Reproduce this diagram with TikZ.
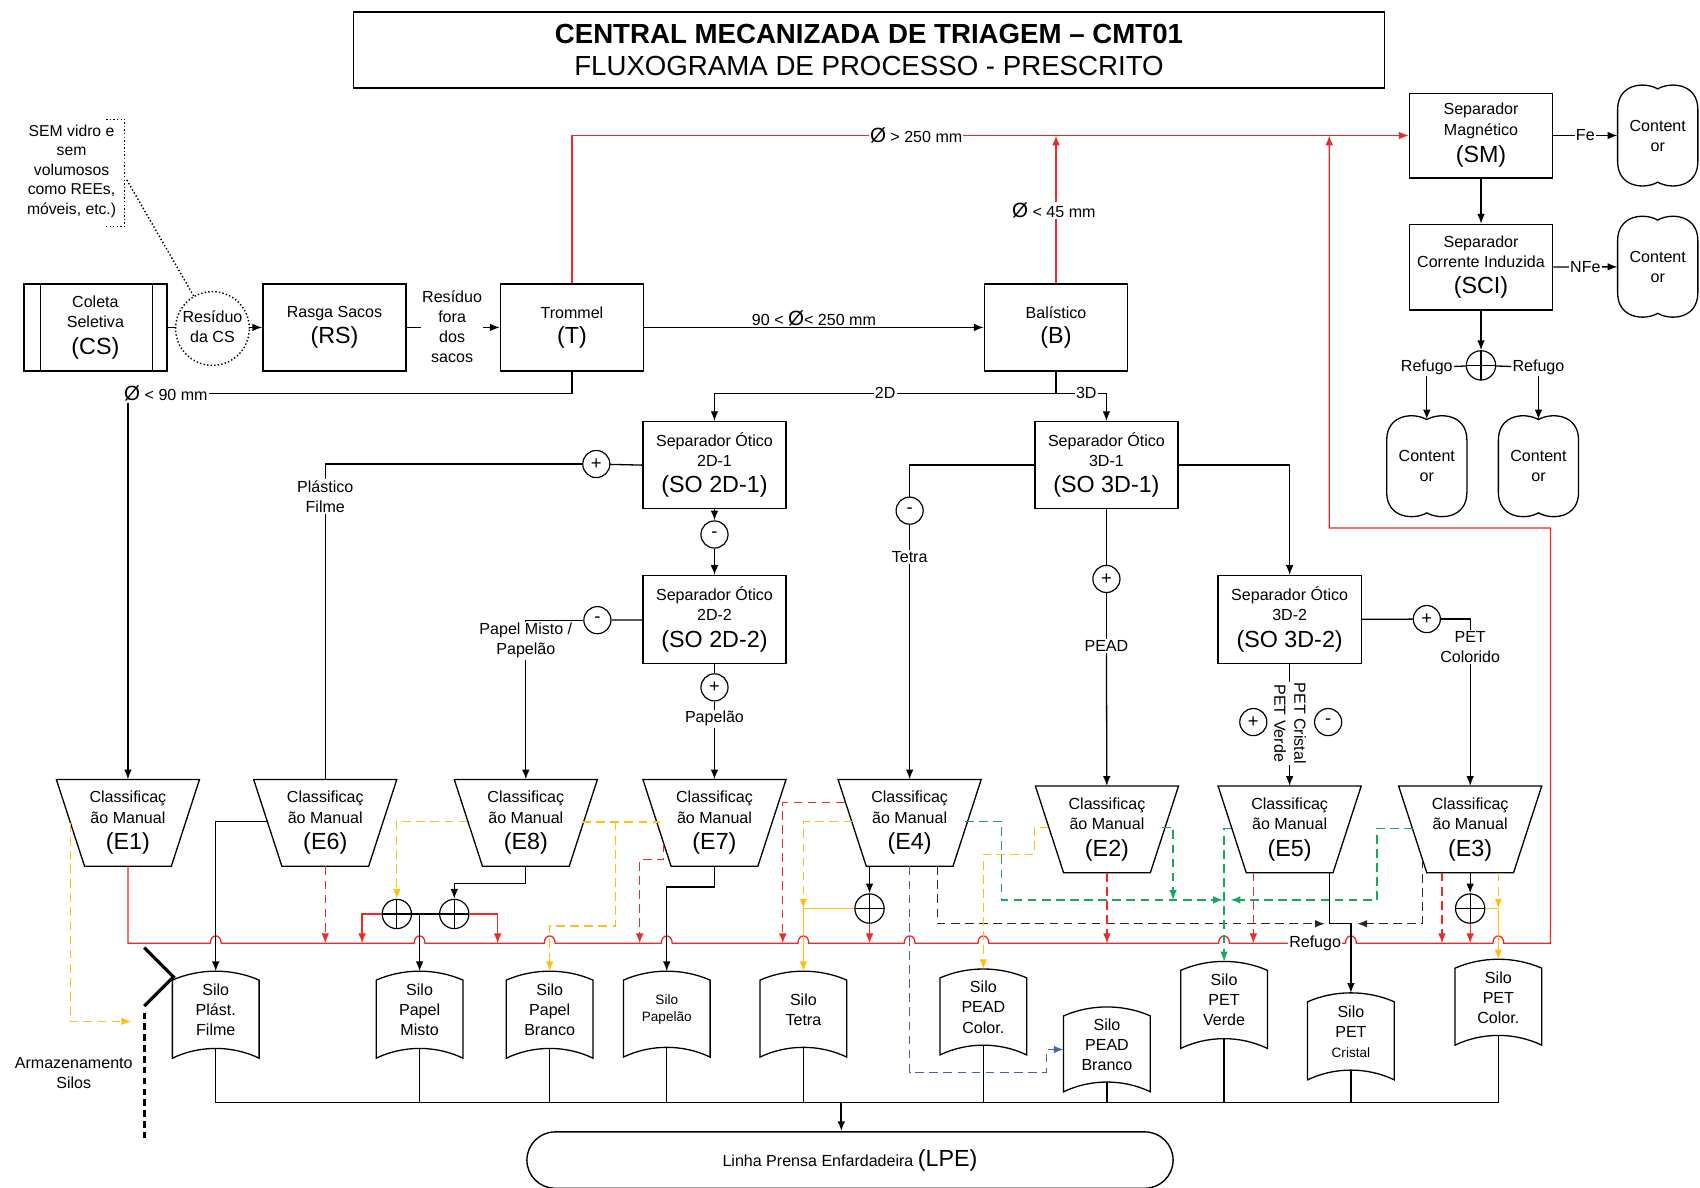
\documentclass[tikz,border=0pt]{standalone}
\usepackage{fontspec}
\setmainfont{Liberation Sans}
\usetikzlibrary{arrows.meta,shapes,positioning}

\definecolor{vermelhoCMT}{RGB}{240,40,40}
\definecolor{amarelo}{RGB}{255,190,20}
\definecolor{verde}{RGB}{20,170,90}
\definecolor{azul}{RGB}{70,100,160}
\definecolor{cinza}{RGB}{40,40,40}

\newcommand{\pequena}{\fontsize{14.8}{18.5}\selectfont}
\newcommand{\menor}{\fontsize{12.5}{15}\selectfont}
\newcommand{\grande}{\fontsize{21.5}{24}\selectfont}
\newcommand{\diametro}{{\fontsize{19}{19}\selectfont Ø}}

\newcommand{\estacao}[4]{%
  \draw[linha] (#2-66,#3) -- (#2+66,#3) -- (#2+40,#3+80) -- (#2-40,#3+80) -- cycle;
  \node[estacaotxt] (#1) at (#2,#3+40) {Classificaç\\ão Manual\\[6pt]{\grande (#4)}};}

\newcommand{\silo}[6]{%
  \draw[linha] (#2-40,#3+8) .. controls (#2-15,#3-3) and (#2+15,#3-3) .. (#2+40,#3+8) -- (#2+40,#4) .. controls (#2+15,#4-12) and (#2-15,#4-12) .. (#2-40,#4) -- cycle;
  \node[silotxt,#5,minimum height=#4-#3-9] (#1) at (#2,{(#3+#4-9)/2}) {#6};}

\newcommand{\contentor}[3]{%
  \draw[linha] (#2-37,#3-24) .. controls (#2-37,#3-48) and (#2-12,#3-50) .. (#2,#3-43) .. controls (#2+12,#3-50) and (#2+37,#3-48) .. (#2+37,#3-24) -- (#2+37,#3+24) .. controls (#2+37,#3+48) and (#2+12,#3+50) .. (#2,#3+43) .. controls (#2-12,#3+50) and (#2-37,#3+48) .. (#2-37,#3+24) -- cycle;
  \node[conttxt] (#1) at (#2,#3) {Content\\or};}

\begin{document}
\begin{tikzpicture}[x=1pt,y=-1pt]
\tikzstyle{linha}=[line width=1.2pt]
\tikzstyle{fluxo}=[line width=1.2pt,-{Latex[length=9pt,width=7pt]}]
\tikzstyle{vermelho}=[line width=1.4pt,vermelhoCMT]
\tikzstyle{tracejado}=[line width=1.3pt,dash pattern=on 8pt off 5pt]
\tikzstyle{bloco}=[draw,line width=1.3pt,minimum width=132pt,minimum height=80pt,inner sep=0pt,align=center,font=\pequena]
\tikzstyle{rotulo}=[inner sep=1pt,align=center,font=\pequena]
\tikzstyle{sinal}=[draw,circle,line width=1.1pt,fill=white,minimum size=25pt,inner sep=0pt,font=\fontsize{17}{17}\selectfont]
\tikzstyle{soma}=[draw,circle,line width=1.1pt,minimum size=27pt,inner sep=0pt,path picture={\draw[line width=1.1pt] (path picture bounding box.north) -- (path picture bounding box.south) (path picture bounding box.west) -- (path picture bounding box.east);}]
\tikzstyle{estacaotxt}=[minimum width=132pt,minimum height=80pt,inner sep=0pt,align=center,font=\pequena]
\tikzstyle{silotxt}=[minimum width=80pt,inner sep=0pt,align=center,font=\pequena]
\tikzstyle{conttxt}=[minimum width=74pt,minimum height=86pt,inner sep=0pt,align=center,font=\pequena]

\useasboundingbox (0,0) rectangle (1568,1095);

\node[draw,line width=1.3pt,minimum width=951pt,minimum height=70pt,align=center,font=\fontsize{25.5}{30}\selectfont] (titulo) at (801.5,46) {\textbf{CENTRAL MECANIZADA DE TRIAGEM – CMT01}\\FLUXOGRAMA DE PROCESSO - PRESCRITO};

\node[bloco] (CS) at (88,302) {Coleta\\Seletiva\\[6pt]{\grande (CS)}};
\draw[linha] ([xshift=16pt]CS.north west) -- ([xshift=16pt]CS.south west);
\draw[linha] ([xshift=-14pt]CS.north east) -- ([xshift=-14pt]CS.south east);
\node[bloco] (RS) at (308.5,302) {Rasga Sacos\\[5pt]{\grande (RS)}};
\node[bloco] (T) at (527.5,302) {Trommel\\[5pt]{\grande (T)}};
\node[bloco] (B) at (974,302) {Balístico\\[5pt]{\grande (B)}};
\node[bloco,minimum height=78pt] (SM) at (1366,125) {Separador\\Magnético\\[6pt]{\grande (SM)}};
\node[bloco,minimum height=79pt] (SCI) at (1366,246.5) {Separador\\Corrente Induzida\\[6pt]{\grande (SCI)}};
\node[bloco] (SO2D1) at (659,429) {Separador Ótico\\2D-1\\[6pt]{\grande (SO 2D-1)}};
\node[bloco,minimum height=81pt] (SO2D2) at (659,571.5) {Separador Ótico\\2D-2\\[6pt]{\grande (SO 2D-2)}};
\node[bloco] (SO3D1) at (1020.5,429) {Separador Ótico\\3D-1\\[6pt]{\grande (SO 3D-1)}};
\node[bloco,minimum height=81pt] (SO3D2) at (1189.5,571.5) {Separador Ótico\\3D-2\\[6pt]{\grande (SO 3D-2)}};

\estacao{E1}{118}{719}{E1}
\estacao{E6}{300}{719}{E6}
\estacao{E8}{485}{719}{E8}
\estacao{E7}{659}{719}{E7}
\estacao{E4}{839}{719}{E4}
\estacao{E2}{1021}{725}{E2}
\estacao{E5}{1189.5}{725}{E5}
\estacao{E3}{1356}{725}{E3}

\silo{S1}{199}{896}{976}{}{Silo\\Plást.\\Filme}
\silo{S2}{387}{896}{976}{}{Silo\\Papel\\Misto}
\silo{S3}{507}{896}{976}{}{Silo\\Papel\\Branco}
\silo{S4}{615}{896}{975}{font=\menor}{Silo\\Papelão}
\silo{S5}{741}{896}{975}{}{Silo\\Tetra}
\silo{S6}{907}{894}{973}{}{Silo\\PEAD\\Color.}
\silo{S7}{1021}{929}{1007}{}{Silo\\PEAD\\Branco}
\silo{S8}{1129}{887}{967}{}{Silo\\PET\\Verde}
\silo{S9}{1246}{916}{996}{}{Silo\\PET\\{\menor Cristal}}
\silo{S10}{1382}{885}{964}{}{Silo\\PET\\Color.}

\contentor{C1}{1529}{125}
\contentor{C2}{1529}{246}
\contentor{C3}{1316}{430}
\contentor{C4}{1419}{430}

\node[draw,dotted,circle,line width=1.3pt,minimum size=68pt,inner sep=0pt] (res) at (196,303) {};
\node[rotulo] (restxt) at (196,301) {Resíduo\\da CS};
\node[rotulo,font=\fontsize{14.5}{18}\selectfont] (nota) at (66,158) {SEM vidro e\\sem\\volumosos\\como REEs,\\móveis, etc.)};
\draw[dotted,line width=1.3pt] (98,110) -- (115,110) -- (115,209) -- (98,209);
\draw[dotted,line width=1.3pt] (117,166) -- (res.120);
\draw[linha] (CS.east) -- (CS.east -| res.west);
\draw[fluxo] (res.east |- RS.west) -- (RS.west);

\node[rotulo] (rft) at (417,301) {Resíduo\\fora\\dos\\sacos};
\draw[linha] (RS.east) -- (rft.west |- RS.east);
\draw[fluxo] (rft.east |- T.west) -- (T.west);

\draw[fluxo] (T) -- node[rotulo,fill=white,yshift=8pt] (d250b) {90 < \diametro< 250 mm} (B);
\draw[vermelho,fluxo] (T.north) |- (SM.west);
\draw[vermelho,fluxo] (B.north) -- (B.north |- SM.west);
\node[rotulo,fill=white] (d250) at (845,125) {\diametro{} > 250 mm};
\node[rotulo,fill=white] (d45) at (972,194) {\diametro{} < 45 mm};

\node[rotulo] (d90) at (153,363) {\diametro{} < 90 mm};
\draw[linha] (T.south) |- (d90.east);
\draw[fluxo] (d90.south -| E1.north) -- (E1.north);

\draw[linha] (B.south) -- ++(0,20) coordinate (bif);
\draw[fluxo] (bif) -| node[rotulo,fill=white,pos=0.25] (l2d) {2D} (SO2D1.north);
\draw[fluxo] (bif) -| node[rotulo,fill=white,pos=0.3] (l3d) {3D} (SO3D1.north);

\draw[fluxo] (SM) -- node[rotulo,fill=white] (lfe) {Fe} (C1);
\draw[fluxo] (SCI) -- node[rotulo,fill=white] (lnfe) {NFe} (C2);
\draw[fluxo] (SM) -- (SCI);
\node[soma] (j0) at (1366,337) {};
\draw[fluxo] (SCI) -- (j0);
\node[rotulo] (rf1) at (1316,339) {Refugo};
\node[rotulo] (rf2) at (1419,339) {Refugo};
\draw[linha] (j0) -- (rf1);
\draw[linha] (j0) -- (rf2);
\draw[fluxo] (rf1) -- (C3);
\draw[fluxo] (rf2) -- (C4);

\node[sinal] (p1) at (550,428) {+};
\node[rotulo] (pf) at (300,458) {Plástico\\Filme};
\draw[linha] (SO2D1.west) -- (p1);
\draw[linha] (p1) -| (pf.north);
\draw[linha] (pf) -- (E6);
\node[sinal] (m1) at (659,493) {-};
\draw[fluxo] (SO2D1) -- (m1);
\draw[fluxo] (m1) -- (SO2D2);
\node[sinal] (m2) at (551,572) {-};
\node[rotulo] (pm) at (485,591) {Papel Misto /\\Papelão};
\draw[linha] (SO2D2) -- (m2);
\draw[linha] (m2) -| (pm.north);
\draw[fluxo] (pm) -- (E8);
\node[sinal] (p2) at (659,634) {+};
\node[rotulo] (pap) at (659,663) {Papelão};
\draw[linha] (SO2D2) -- (p2);
\draw[linha] (p2) -- (pap);
\draw[fluxo] (pap) -- (E7);

\node[sinal] (m3) at (839,471) {-};
\node[rotulo] (tet) at (839,514) {Tetra};
\draw[linha] (SO3D1.west) -| (m3);
\draw[linha] (m3) -- (tet);
\draw[fluxo] (tet) -- (E4);
\node[sinal] (p3) at (1020.5,534) {+};
\node[rotulo] (pead) at (1020.5,596) {PEAD};
\draw[linha] (SO3D1) -- (p3);
\draw[linha] (p3) -- (pead);
\draw[fluxo] (pead) -- (E2);
\draw[fluxo] (SO3D1.east) -| (SO3D2.north);
\node[sinal] (p4) at (1316,571) {+};
\node[rotulo] (petc) at (1356,597) {PET\\Colorido};
\draw[linha] (SO3D2) -- (p4);
\draw[linha] (p4) -| (petc.north);
\draw[fluxo] (petc) -- (E3);
\draw[fluxo] (SO3D2) -- (E5);
\node[rotulo,fill=white,rotate=-90] (petcv) at (1190,667) {PET Cristal\\PET Verde};
\node[sinal] (p5) at (1156,666) {+};
\node[sinal] (m4) at (1225,666) {-};

\draw[vermelho,fluxo] (E1.south) -- (118,870) \foreach \h in {199,387,507,615,741,839,907,1129,1246,1382} {-- (\h-5,870) .. controls (\h-5,861) and (\h+5,861) .. (\h+5,870)} -- (1430,870) -- (1430,487) -- (1226,487) -- (1226,125);

\draw[tracejado,amarelo,fluxo] (65,759) |- (121,942);
\draw[line width=3pt] (133,874) -- (160,901) -- (133,928);
\draw[line width=3pt,dash pattern=on 6pt off 4pt] (133,934) -- (133,1054);
\node[rotulo] (arm) at (68,990) {Armazenamento\\Silos};

\draw[fluxo] (246,758) -| (S1.north);
\draw[tracejado,vermelhoCMT,fluxo] (E6.south) -- (300,870);

\node[soma] (j1) at (366,843) {};
\node[soma] (j2) at (419,843) {};
\draw[tracejado,amarelo,fluxo] (431,758) -| (j1.north);
\draw[fluxo] (E8.south) -- ++(0,16) -| (j2.north);
\draw[linha] (j1) -- (j2);
\draw[fluxo] (j1.east -| S2.north) -- (S2.north);
\draw[vermelho,fluxo] (j1.west) -| (334,870);
\draw[vermelho,fluxo] (j2.east) -| (459,870);
\draw[tracejado,amarelo] (537,758) -- (609,758);
\draw[tracejado,amarelo,fluxo] (568,758) -- (568,854) -| (S3.north);

\draw[tracejado,vermelhoCMT,fluxo] (612,778) |- (590,793) -- (590,870);
\draw[fluxo] (E7.south) -- ++(0,19) -| (S4.north);

\node[soma] (j3) at (802,838) {};
\coordinate (jt) at (741,838);
\draw[tracejado,vermelhoCMT,fluxo] (779,740) -| (722,870);
\draw[tracejado,amarelo,fluxo] (786,758) -| (jt);
\draw[amarelo,linha] (j3.west) -- (jt);
\draw[amarelo,fluxo] (jt) -- (S5.north);
\draw[fluxo] (j3.north |- E4.south) -- (j3.north);
\draw[vermelho,fluxo] (j3.south) -- (802,870);
\draw[tracejado,azul,fluxo] (E4.south) |- (965,989) -- (965,968) -- (981,968);
\draw[tracejado,cinza,fluxo] (865,799) |- (1222,852);
\draw[tracejado,verde,fluxo] (890,758) -| (924,830) -- (1128,830);

\draw[tracejado,amarelo,fluxo] (967,763) -| (954,788) -| (S6.north);
\draw[tracejado,verde,fluxo] (1072,763) -| (1082,830);
\draw[tracejado,vermelhoCMT,fluxo] (E2.south) -- (1021,870);

\draw[tracejado,verde,fluxo] (1135,764) -| (S8.north);
\draw[tracejado,vermelhoCMT,fluxo] (1156,805) -- (1156,870);
\draw[fluxo] (1226,805) -- (1226,852) -| (S9.north);
\node[rotulo,fill=white] (rf3) at (1213,870) {Refugo};

\draw[tracejado,cinza,fluxo] (1312,793) |- (1252,852);
\draw[tracejado,verde,fluxo] (1303,764) -| (1270,830) -- (1135,830);
\draw[tracejado,vermelhoCMT,fluxo] (1330,805) -- (1330,870);
\node[soma] (j4) at (1356,838) {};
\coordinate (jp) at (1382,838);
\draw[fluxo] (E3.south) -- (j4);
\draw[vermelho,fluxo] (j4) -- (1356,870);
\draw[tracejado,amarelo,fluxo] (1382,805) -- (jp);
\draw[amarelo,linha] (j4.east) -- (jp);
\draw[amarelo,fluxo] (jp) -- (S10.north);

\coordinate (col) at (776,1017);
\foreach \i in {1,...,10} \draw[linha] (S\i.south) -- (S\i.south |- col);
\draw[linha] (S1.south |- col) -- (S10.south |- col);
\node[draw,line width=1.3pt,rounded corners=26pt,minimum width=596pt,minimum height=52pt,font=\pequena] (LPE) at (784,1070) {Linha Prensa Enfardadeira {\grande (LPE)}};
\draw[fluxo,line width=2pt] (col) -- (col |- LPE.north);
\end{tikzpicture}
\end{document}
